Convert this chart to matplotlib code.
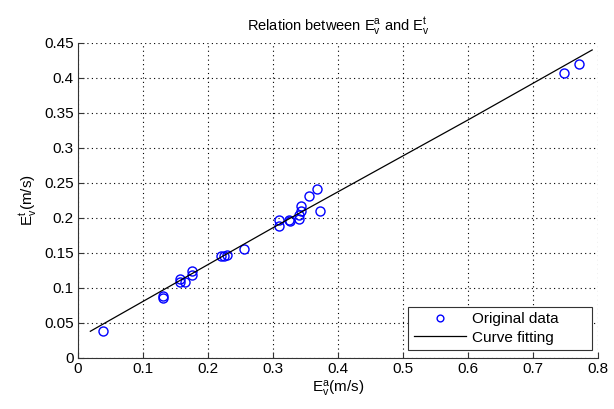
import numpy as np
import matplotlib
matplotlib.use('Agg')
import matplotlib.pyplot as plt

plt.rcParams['font.family'] = ['Liberation Sans', 'DejaVu Sans']
plt.rcParams['mathtext.fontset'] = 'custom'
plt.rcParams['mathtext.rm'] = 'Liberation Sans'
plt.rcParams['mathtext.it'] = 'Liberation Sans'

# original data
Ea = [0.038, 0.131, 0.131, 0.157, 0.157, 0.165, 0.176, 0.176, 0.220, 0.224, 0.229,
      0.255, 0.309, 0.309, 0.325, 0.326, 0.340, 0.340, 0.343, 0.343, 0.356, 0.367,
      0.373, 0.748, 0.771]
Et = [0.038, 0.088, 0.085, 0.112, 0.109, 0.108, 0.124, 0.118, 0.145, 0.145, 0.147,
      0.155, 0.197, 0.188, 0.197, 0.195, 0.199, 0.204, 0.210, 0.217, 0.232, 0.242,
      0.210, 0.407, 0.420]

# fitted line
fit_x = [0.019, 0.30, 0.60, 0.791]
fit_y = [0.038, 0.186, 0.340, 0.440]

fig = plt.figure(figsize=(6.14, 4.09), dpi=100)
ax = fig.add_axes([0.127, 0.125, 0.847, 0.77])

ax.plot(Ea, Et, 'o', markerfacecolor='none', markeredgecolor='#0000ff',
        markersize=6.5, markeredgewidth=1.0, label='Original data')
ax.plot(fit_x, fit_y, '-', color='k', linewidth=0.9, label='Curve fitting')

ax.set_xlim(0, 0.8)
ax.set_ylim(0, 0.45)
ax.set_xticks(np.arange(0, 0.81, 0.1))
ax.set_yticks(np.arange(0, 0.451, 0.05))
ax.set_xticklabels(['0', '0.1', '0.2', '0.3', '0.4', '0.5', '0.6', '0.7', '0.8'])
ax.set_yticklabels(['0', '0.05', '0.1', '0.15', '0.2', '0.25', '0.3', '0.35', '0.4', '0.45'])
ax.tick_params(direction='in', length=4, labelsize=11, color='#333333', pad=3)
ax.grid(True, linestyle=(0, (1, 3)), color='k', linewidth=0.8)
ax.spines['top'].set_visible(False)
ax.spines['right'].set_visible(False)
ax.spines['left'].set_color('#333333')
ax.spines['bottom'].set_color('#333333')

ax.set_title(r'Relation between $\mathregular{E_v^a}$ and $\mathregular{E_v^t}$', fontsize=10.5, pad=9)
ax.set_xlabel(r'$\mathregular{E_v^a}$(m/s)', fontsize=11, labelpad=2)
ax.set_ylabel(r'$\mathregular{E_v^t}$(m/s)', fontsize=11, labelpad=4)

leg = ax.legend(loc='lower left', bbox_to_anchor=(0.635, 0.025, 0.353, 0.14), mode='expand',
                fontsize=11, fancybox=False, framealpha=1, edgecolor='#333333',
                borderaxespad=0, borderpad=0.35, labelspacing=0.3, handlelength=3.4,
                handletextpad=0.4, markerscale=0.75)
leg.get_frame().set_linewidth(0.8)

fig.savefig('out.png', dpi=100)
